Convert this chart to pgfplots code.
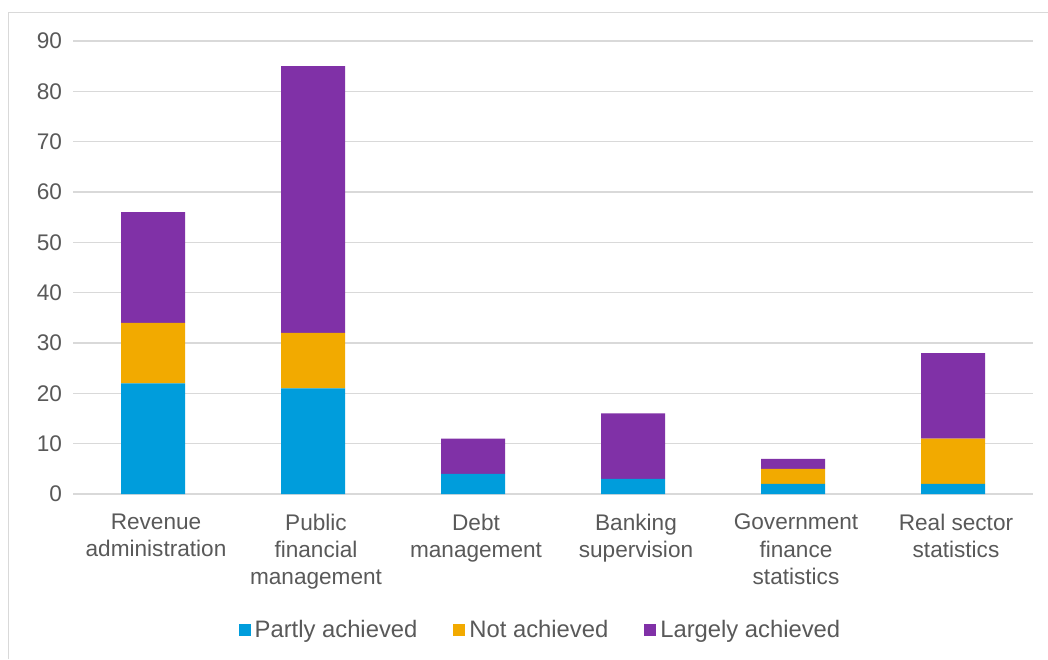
\documentclass[border=0pt]{standalone}
\usepackage{fontspec}
\setmainfont{Liberation Sans}
\usepackage{pgfplots}
\pgfplotsset{compat=1.18}
\definecolor{cblue}{HTML}{009DDC}
\definecolor{corange}{HTML}{F2AA00}
\definecolor{cpurple}{HTML}{8031A7}
\definecolor{cgrid}{HTML}{D9D9D9}
\definecolor{ctext}{HTML}{595959}
\begin{document}
\begin{tikzpicture}
\useasboundingbox (0,0) rectangle (524pt,-329.5pt);
\fill[white] (0,0) rectangle (524pt,-329.5pt);
\draw[cgrid, line width=0.75pt] (4.25pt,-329.5pt) -- (4.25pt,-6.25pt) -- (524pt,-6.25pt);
\begin{axis}[
  at={(36.5pt,-247pt)}, anchor=south west,
  scale only axis, width=480pt, height=226.5pt,
  ybar stacked, bar width=32pt,
  xmin=-0.5, xmax=5.5, ymin=0, ymax=90,
  ytick={0,10,...,90},
  xtick={0,1,2,3,4,5},
  xticklabels={{Revenue\\administration},{Public\\financial\\management},{Debt\\management},{Banking\\supervision},{Government\\finance\\statistics},{Real sector\\statistics}},
  axis x line*=bottom, axis y line*=left,
  x axis line style={cgrid, line width=0.75pt},
  y axis line style={draw=none},
  major tick length=0pt,
  ymajorgrids, grid style={cgrid, line width=0.75pt},
  /pgf/number format/assume math mode=true,
  tick label style={font=\fontsize{11.3}{13.6}\selectfont, text=ctext},
  x tick label style={align=center, anchor=north, yshift=-6.5pt, xshift=1.5pt},
  y tick label style={anchor=east, xshift=-2pt},
  legend style={at={(0.488,-0.3)}, anchor=center, legend columns=3, draw=none,
    font=\fontsize{11.9}{14}\selectfont, text=ctext,
    /tikz/every even column/.append style={column sep=16pt}},
  legend image code/.code={\fill[#1] (0pt,-3pt) rectangle (6pt,3pt);},
]
\addplot[fill=cblue, draw=none] coordinates {(0,22) (1,21) (2,4) (3,3) (4,2) (5,2)};
\addplot[fill=corange, draw=none] coordinates {(0,12) (1,11) (2,0) (3,0) (4,3) (5,9)};
\addplot[fill=cpurple, draw=none] coordinates {(0,22) (1,53) (2,7) (3,13) (4,2) (5,17)};
\legend{Partly achieved, Not achieved, Largely achieved}
\end{axis}
\end{tikzpicture}
\end{document}
